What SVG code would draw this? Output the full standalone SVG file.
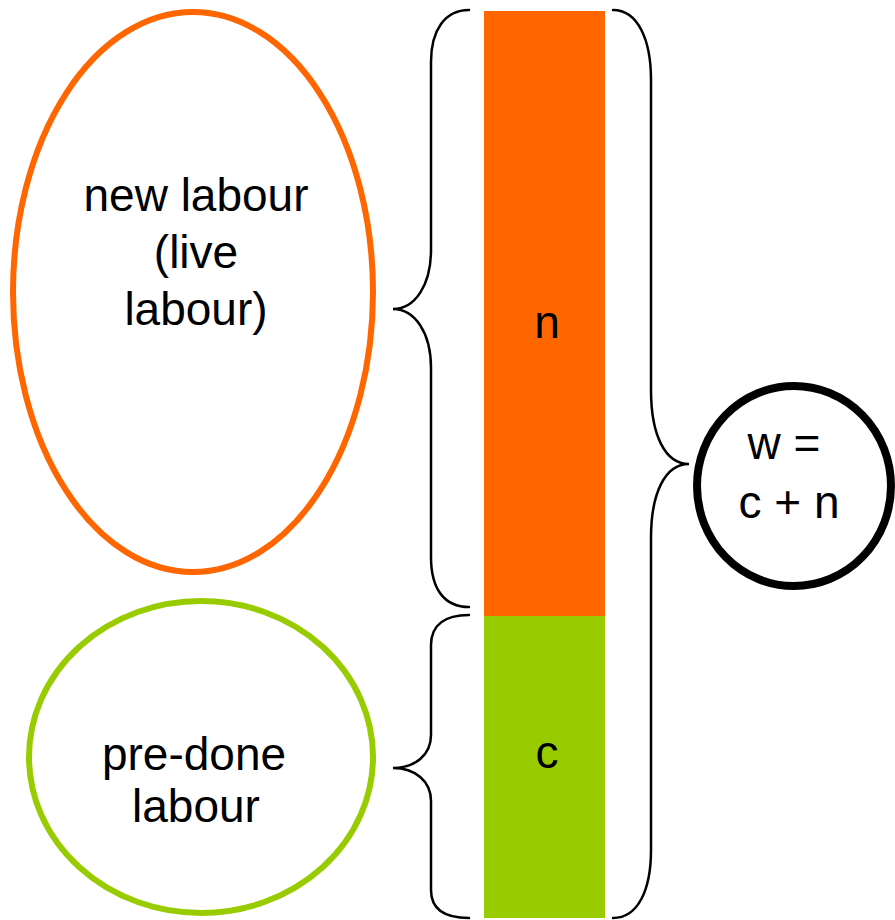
<svg xmlns="http://www.w3.org/2000/svg" width="895" height="920" viewBox="0 0 895 920">
<style>
.t{font-family:"Liberation Sans",Arial,sans-serif;font-size:46px;fill:#000;text-anchor:middle}
.br{fill:none;stroke:#000;stroke-width:2.5;stroke-linecap:round}
</style>
<rect x="0" y="0" width="895" height="920" fill="#fff"/>
<g id="bar">
<rect x="484" y="11" width="121" height="605" fill="#FF6600"/>
<rect x="484" y="616" width="121" height="302" fill="#99CC00"/>
<text class="t" x="547" y="338">n</text>
<text class="t" x="547" y="768">c</text>
</g>
<g id="new-labour">
<ellipse cx="193" cy="292" rx="180" ry="280" fill="none" stroke="#FF6600" stroke-width="6"/>
<text class="t" x="196" y="211">new labour</text>
<text class="t" x="196" y="268">(live</text>
<text class="t" x="196" y="325">labour)</text>
</g>
<g id="pre-done-labour">
<ellipse cx="201" cy="757" rx="172" ry="156" fill="none" stroke="#99CC00" stroke-width="6"/>
<text class="t" x="194" y="770">pre-done</text>
<text class="t" x="196" y="822">labour</text>
</g>
<g id="w-total">
<ellipse cx="794" cy="486" rx="97" ry="100" fill="none" stroke="#000" stroke-width="8"/>
<text class="t" x="784" y="459">w =</text>
<text class="t" x="789" y="518">c + n</text>
</g>
<g id="braces">
<path class="br" d="M469,10 C445,10 431,30 431,62 L431,250 C431,285 415,309 393,309 C415,309 431,333 431,368 L431,557 C431,590 445,607 469,607"/>
<path class="br" d="M469,615 C445,615 431,625 431,645 L431,735 C431,755 415,768 393,768 C415,768 431,781 431,801 L431,890 C431,910 445,918 469,918"/>
<path class="br" d="M613,10 C638,10 651,40 651,80 L651,390 C651,435 665,464 689,464 C665,464 651,493 651,538 L651,850 C651,890 638,918 613,918"/>
</g>
</svg>
